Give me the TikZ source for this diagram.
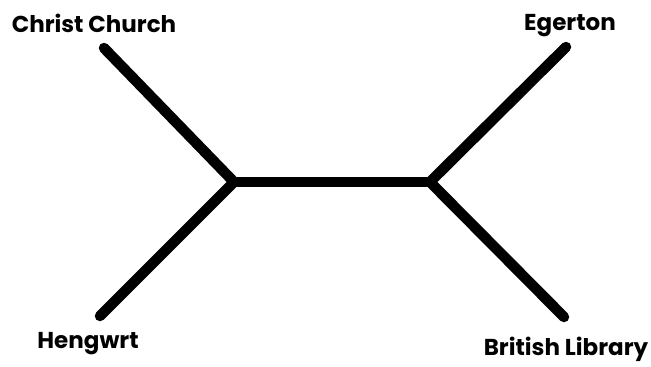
\documentclass[tikz,border=0pt]{standalone}
\usepackage{fontspec}
\setmainfont{Poppins}
\begin{document}
\begin{tikzpicture}[x=1pt,y=-1pt,
  branch/.style={line width=10.5pt,line cap=round,line join=miter},
  lbl/.style={anchor=base,inner sep=0pt,font=\fontsize{23}{25}\selectfont\bfseries}]
\useasboundingbox (0,0) rectangle (651,367);
\coordinate (L) at (234,182);
\coordinate (R) at (430,182);
\coordinate (cc) at (104,48);
\coordinate (hw) at (100,316);
\coordinate (eg) at (566,47);
\coordinate (bl) at (564,317);
\draw[branch] (cc) -- (L) -- (hw);
\draw[branch] (eg) -- (R) -- (bl);
\draw[branch,line cap=butt] (L) -- (R);
\node[lbl] (tcc) at (94,32) {Christ Church};
\node[lbl] (teg) at (570,30) {Egerton};
\node[lbl] (thw) at (88,348) {Hengwrt};
\node[lbl] (tbl) at (566,355) {British Library};
\end{tikzpicture}
\end{document}
